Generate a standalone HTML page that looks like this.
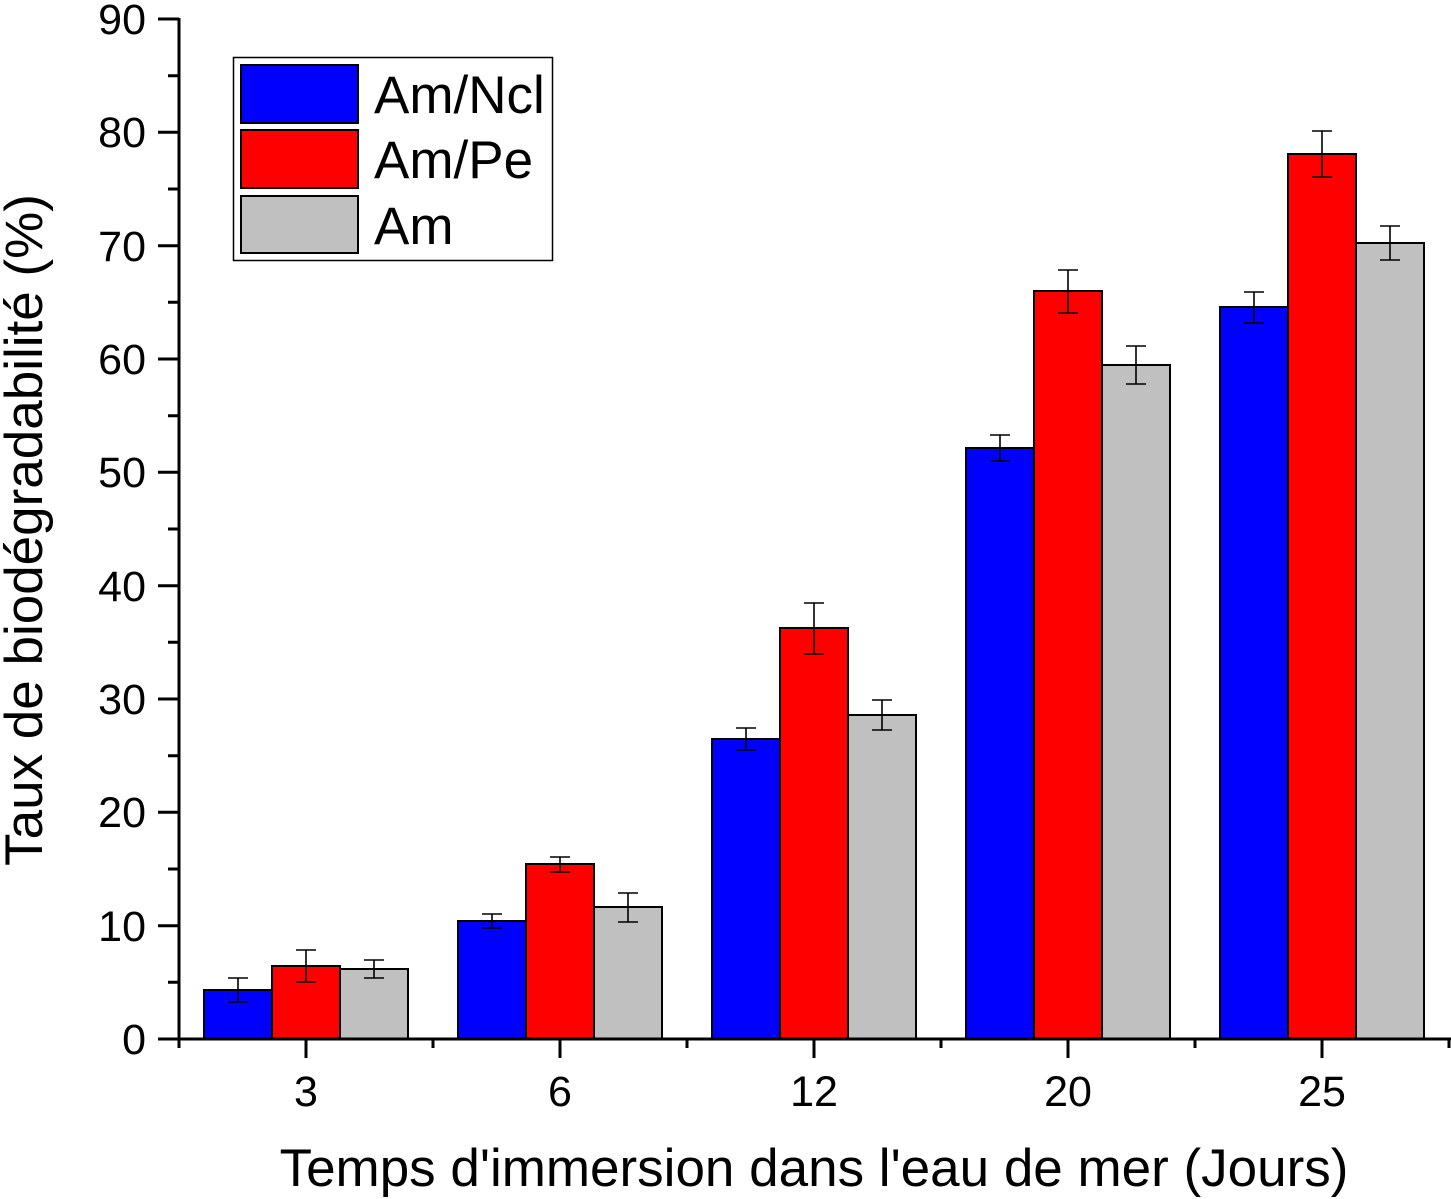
<!DOCTYPE html>
<html><head><style>body{margin:0;background:#fff}svg{display:block}</style></head><body>
<svg width="1451" height="1199" xmlns="http://www.w3.org/2000/svg" font-family="Liberation Sans, Arial, sans-serif">
<rect width="1451" height="1199" fill="#fff"/>
<g stroke="#000" stroke-width="2">
<rect x="204" y="990" width="68" height="49" fill="#0000ff"/>
<rect x="272" y="966" width="68" height="73" fill="#ff0000"/>
<rect x="340" y="969" width="68" height="70" fill="#c0c0c0"/>
<rect x="458" y="921" width="68" height="118" fill="#0000ff"/>
<rect x="526" y="864" width="68" height="175" fill="#ff0000"/>
<rect x="594" y="907" width="68" height="132" fill="#c0c0c0"/>
<rect x="712" y="739" width="68" height="300" fill="#0000ff"/>
<rect x="780" y="628" width="68" height="411" fill="#ff0000"/>
<rect x="848" y="715" width="68" height="324" fill="#c0c0c0"/>
<rect x="966" y="448" width="68" height="591" fill="#0000ff"/>
<rect x="1034" y="291" width="68" height="748" fill="#ff0000"/>
<rect x="1102" y="365" width="68" height="674" fill="#c0c0c0"/>
<rect x="1220" y="307" width="68" height="732" fill="#0000ff"/>
<rect x="1288" y="154" width="68" height="885" fill="#ff0000"/>
<rect x="1356" y="243" width="68" height="796" fill="#c0c0c0"/>
</g>
<g stroke="#000" stroke-width="1.6" fill="none">
<path d="M238 978V1002M228 978H248M228 1002H248"/>
<path d="M306 950V982M296 950H316M296 982H316"/>
<path d="M374 960V978M364 960H384M364 978H384"/>
<path d="M492 914V928M482 914H502M482 928H502"/>
<path d="M560 857V872M550 857H570M550 872H570"/>
<path d="M628 893V922M618 893H638M618 922H638"/>
<path d="M746 728V750M736 728H756M736 750H756"/>
<path d="M814 603V654M804 603H824M804 654H824"/>
<path d="M882 700V730M872 700H892M872 730H892"/>
<path d="M1000 435V461M990 435H1010M990 461H1010"/>
<path d="M1068 270V313M1058 270H1078M1058 313H1078"/>
<path d="M1136 346V384M1126 346H1146M1126 384H1146"/>
<path d="M1254 292V323M1244 292H1264M1244 323H1264"/>
<path d="M1322 131V177M1312 131H1332M1312 177H1332"/>
<path d="M1390 226V260M1380 226H1400M1380 260H1400"/>
</g>
<g stroke="#000" stroke-width="3" fill="none">
<path d="M179 18V1040M158 1039H1451"/>
<path d="M158 1039H179M158 925.7H179M158 812.3H179M158 699H179M158 585.7H179M158 472.3H179M158 359H179M158 245.7H179M158 132.3H179M158 19H179"/>
<path d="M168 982.3H179M168 869H179M168 755.7H179M168 642.3H179M168 529H179M168 415.7H179M168 302.3H179M168 189H179M168 75.7H179"/>
<path d="M306 1039V1058M560 1039V1058M814 1039V1058M1068 1039V1058M1322 1039V1058"/>
<path d="M179 1039V1048M433 1039V1048M687 1039V1048M941 1039V1048M1195 1039V1048M1449 1039V1048"/>
</g>
<g font-size="43" text-anchor="end">
<text x="146" y="1054">0</text><text x="146" y="941">10</text><text x="146" y="827">20</text><text x="146" y="714">30</text><text x="146" y="601">40</text><text x="146" y="487">50</text><text x="146" y="374">60</text><text x="146" y="261">70</text><text x="146" y="147">80</text><text x="146" y="34">90</text>
</g>
<g font-size="43" text-anchor="middle">
<text x="306" y="1106">3</text><text x="560" y="1106">6</text><text x="814" y="1106">12</text><text x="1068" y="1106">20</text><text x="1322" y="1106">25</text>
</g>
<text x="814" y="1186" font-size="53" text-anchor="middle">Temps d'immersion dans l'eau de mer (Jours)</text>
<text transform="translate(42,530) rotate(-90)" font-size="53" text-anchor="middle">Taux de biodégradabilité (%)</text>
<rect x="233.5" y="57.5" width="319" height="203" fill="#fff" stroke="#000" stroke-width="1.5"/>
<g stroke="#000" stroke-width="2">
<rect x="241" y="65" width="117" height="58" fill="#0000ff"/>
<rect x="241" y="130" width="117" height="58" fill="#ff0000"/>
<rect x="241" y="196" width="117" height="57" fill="#c0c0c0"/>
</g>
<g font-size="53">
<text x="374" y="113">Am/Ncl</text>
<text x="374" y="178">Am/Pe</text>
<text x="374" y="244">Am</text>
</g>
</svg>
</body></html>
